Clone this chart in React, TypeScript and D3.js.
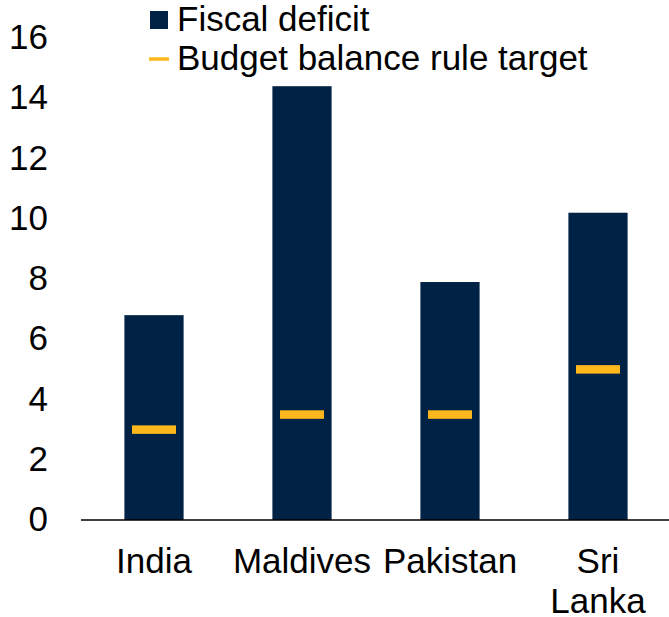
import React from "react";
import * as d3 from "d3";

const categories: string[][] = [["India"], ["Maldives"], ["Pakistan"], ["Sri", "Lanka"]];
const deficit: number[] = [6.8, 14.4, 7.9, 10.2];
const target: number[] = [3.0, 3.5, 3.5, 5.0];
const yTicks: number[] = [0, 2, 4, 6, 8, 10, 12, 14, 16];
const legendLabels: string[] = ["Fiscal deficit", "Budget balance rule target"];

const W = 669;
const H = 617;
const NAVY = "#002244";
const GOLD = "#FFB81C";
const FONT = "'Liberation Sans', Arial, sans-serif";
const FS = 35;

export default function App() {
  const keys = categories.map((c) => c.join(" "));
  const x = d3.scaleBand<string>().domain(keys).range([80, 672]).paddingInner(0.6).paddingOuter(0.3);
  const y = d3.scaleLinear().domain([0, 16]).range([520, 38]);
  const bw = x.bandwidth();
  const mw = 44;
  const mh = 8.5;

  return (
    <svg width={W} height={H} style={{ position: "absolute", left: 0, top: 0 }} fontFamily={FONT}>
      <rect x={0} y={0} width={W} height={H} fill="#fff" />
      {yTicks.map((t) => (
        <text key={t} x={48} y={y(t)} dy="0.32em" textAnchor="end" fontSize={FS} fill="#000">
          {t}
        </text>
      ))}
      {keys.map((k, i) => (
        <rect key={k} x={x(k)} y={y(deficit[i])} width={bw} height={y(0) - y(deficit[i])} fill={NAVY} />
      ))}
      {keys.map((k, i) => (
        <rect
          key={"t" + k}
          x={(x(k) as number) + bw / 2 - mw / 2}
          y={y(target[i]) - mh / 2}
          width={mw}
          height={mh}
          fill={GOLD}
        />
      ))}
      <line x1={81} x2={669} y1={y(0)} y2={y(0)} stroke="#000" strokeWidth={1.5} />
      {categories.map((c, i) => (
        <text key={"l" + i} x={(x(keys[i]) as number) + bw / 2} y={573} textAnchor="middle" fontSize={FS} fill="#000">
          {c.map((line, j) => (
            <tspan key={j} x={(x(keys[i]) as number) + bw / 2} dy={j === 0 ? 0 : 40}>
              {line}
            </tspan>
          ))}
        </text>
      ))}
      <rect x={150} y={11} width={18} height={18} fill={NAVY} />
      <text x={177} y={31} fontSize={FS} fill="#000">{legendLabels[0]}</text>
      <rect x={149} y={57.3} width={20} height={3.5} fill={GOLD} />
      <text x={177} y={70} fontSize={FS} fill="#000">{legendLabels[1]}</text>
    </svg>
  );
}
